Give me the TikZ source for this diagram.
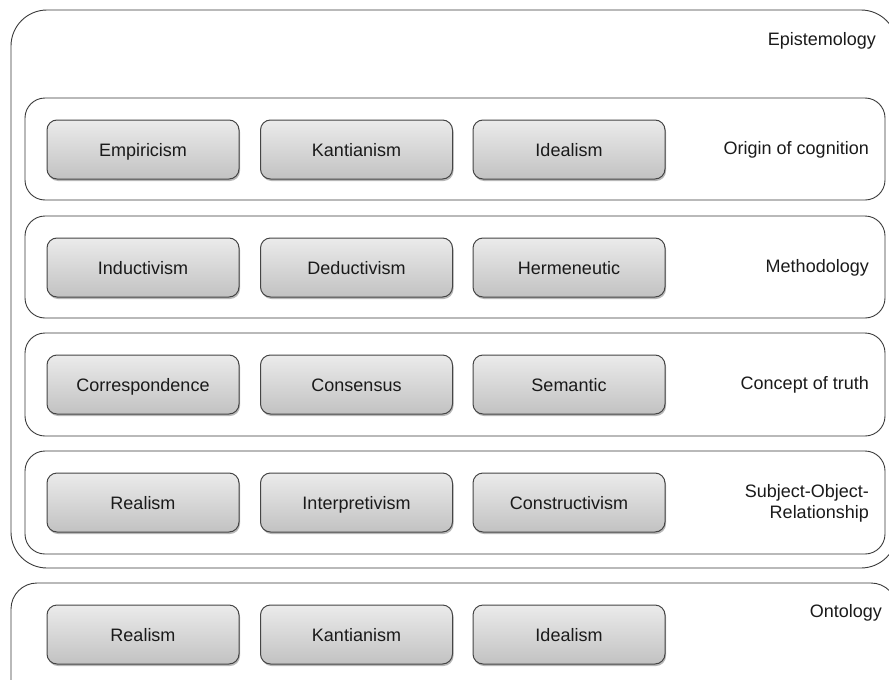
\documentclass[tikz,border=0pt]{standalone}
\usepackage{fontspec}
\setmainfont{Liberation Sans}
\usetikzlibrary{shadows}
\definecolor{edge}{HTML}{3A3A3A}
\definecolor{boxedge}{HTML}{454545}
\definecolor{gtop}{HTML}{EBEBEB}
\definecolor{gbot}{HTML}{C2C2C2}
\definecolor{ink}{HTML}{1A1A1A}
\begin{document}
\begin{tikzpicture}[x=1pt,y=-1pt,
  every node/.style={font=\fontsize{18}{21}\selectfont, text=ink},
  outerbox/.style={draw=edge, line width=0.9pt, rounded corners=36pt, inner sep=0pt},
  rowbox/.style={draw=edge, line width=0.9pt, rounded corners=20pt, inner sep=0pt,
    minimum width=860pt, minimum height=102pt},
  graybox/.style={draw=boxedge, line width=1pt, rounded corners=10pt,
    top color=gtop, bottom color=gbot, minimum width=192pt, minimum height=59pt,
    inner sep=0pt, text height=13pt, text depth=0pt,
    drop shadow={shadow xshift=1pt, shadow yshift=-2pt, opacity=0.28, fill=black}},
  tag/.style={anchor=east, inner sep=0pt, align=right}]
\useasboundingbox (0,0) rectangle (889,680);
\clip (0,0) rectangle (889,680);

% outer containers
\node[outerbox, minimum width=886pt, minimum height=558pt] (epi) at (454,289) {};
\node[outerbox, rounded corners=26pt, minimum width=886pt, minimum height=130pt] (onto) at (454,648) {};

% rows inside epistemology
\node[rowbox] (r1) at (455,149) {};
\node[rowbox] (r2) at (455,267) {};
\node[rowbox, minimum height=103pt] (r3) at (455,384.5) {};
\node[rowbox, minimum height=103pt] (r4) at (455,502.5) {};

% row labels
\node[tag] (lepi) at (876,41) {Epistemology};
\node[tag] (l1) at (869,150) {Origin of cognition};
\node[tag] (l2) at (869,268) {Methodology};
\node[tag] (l3) at (869,385) {Concept of truth};
\node[tag] (l4) at (869,503) {Subject-Object-\\Relationship};
\node[tag] (lonto) at (882,613) {Ontology};

% option boxes
\node[graybox] (a1) at (143,149.5) {Empiricism};
\node[graybox] (a2) at (356.5,149.5) {Kantianism};
\node[graybox] (a3) at (569,149.5) {Idealism};

\node[graybox] (b1) at (143,267.5) {Inductivism};
\node[graybox] (b2) at (356.5,267.5) {Deductivism};
\node[graybox] (b3) at (569,267.5) {Hermeneutic};

\node[graybox] (c1) at (143,384.5) {Correspondence};
\node[graybox] (c2) at (356.5,384.5) {Consensus};
\node[graybox] (c3) at (569,384.5) {Semantic};

\node[graybox] (d1) at (143,502.5) {Realism};
\node[graybox] (d2) at (356.5,502.5) {Interpretivism};
\node[graybox] (d3) at (569,502.5) {Constructivism};

\node[graybox] (o1) at (143,634.5) {Realism};
\node[graybox] (o2) at (356.5,634.5) {Kantianism};
\node[graybox] (o3) at (569,634.5) {Idealism};
\end{tikzpicture}
\end{document}
